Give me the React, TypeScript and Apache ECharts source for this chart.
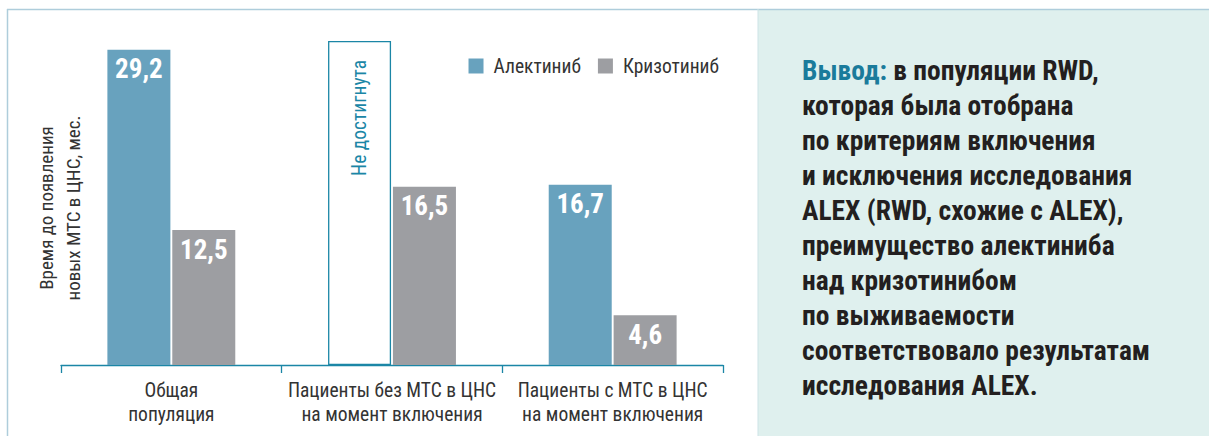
import React, { useEffect, useRef } from 'react';
import * as echarts from 'echarts';

const categories = [
  'Общая\nпопуляция',
  'Пациенты без МТС в ЦНС\nна момент включения',
  'Пациенты с МТС в ЦНС\nна момент включения',
];
const seriesNames = ['Алектиниб', 'Кризотиниб'];
// null = медиана не достигнута
const alectinib: (number | null)[] = [29.2, null, 16.7];
const crizotinib: number[] = [12.5, 16.5, 4.6];
const notReachedLabel = 'Не достигнута';
const notReachedBarHeight = 30;
const yMin = 0;
const yMax = 30;
const yAxisTitleLines = ['Время до появления', 'новых МТС в ЦНС, мес.'];
const conclusionLead = 'Вывод:';
const conclusionLines = [
  'в популяции RWD,',
  'которая была отобрана',
  'по критериям включения',
  'и исключения исследования',
  'ALEX (RWD, схожие с ALEX),',
  'преимущество алектиниба',
  'над кризотинибом',
  'по выживаемости',
  'соответствовало результатам',
  'исследования ALEX.',
];

const FONT = "'Liberation Sans Narrow', 'Roboto Condensed', 'DejaVu Sans Condensed', Roboto, sans-serif";
const BLUE = '#68a2be';
const GRAY = '#9d9ea2';
const TEAL = '#1b86a6';
const FRAME = '#aecddb';
const PANEL = '#dff0ee';
const TEXT = '#333333';
const DARK = '#231f20';

const fmt = (v: number) => String(v).replace('.', ',');

export default function App() {
  const ref = useRef<HTMLDivElement>(null);
  useEffect(() => {
    if (!ref.current) return;
    const chart = echarts.init(ref.current, undefined, { renderer: 'svg' });

    const alectData = alectinib.map((v) =>
      v === null
        ? {
            value: notReachedBarHeight,
            itemStyle: { color: '#ffffff', borderColor: TEAL, borderWidth: 1.3 },
            label: {
              show: true,
              formatter: notReachedLabel,
              rotate: 90,
              position: 'insideTop',
              distance: 19,
              align: 'right',
              verticalAlign: 'middle',
              color: TEAL,
              fontSize: 19.5,
              fontWeight: 'normal',
            },
          }
        : { value: v }
    );

    const graphic: any[] = [
      { type: 'rect', z: -10, shape: { x: 758, y: 9, width: 460, height: 440 }, style: { fill: PANEL } },
      { type: 'line', z: -5, shape: { x1: 7, y1: 9.5, x2: 1209, y2: 9.5 }, style: { stroke: FRAME, lineWidth: 1.5 } },
      { type: 'line', z: -5, shape: { x1: 7.5, y1: 9, x2: 7.5, y2: 436 }, style: { stroke: FRAME, lineWidth: 1.5 } },
      { type: 'line', z: -5, shape: { x1: 758, y1: 9, x2: 758, y2: 436 }, style: { stroke: '#cde3e6', lineWidth: 1 } },
      {
        type: 'text',
        x: 46,
        y: 208,
        rotation: Math.PI / 2,
        style: { text: yAxisTitleLines[0], fontFamily: FONT, fontSize: 19, fill: TEXT, align: 'center', verticalAlign: 'middle' },
      },
      {
        type: 'text',
        x: 73,
        y: 208,
        rotation: Math.PI / 2,
        style: { text: yAxisTitleLines[1], fontFamily: FONT, fontSize: 19, fill: TEXT, align: 'center', verticalAlign: 'middle' },
      },
    ];
    conclusionLines.forEach((line, i) => {
      graphic.push({
        type: 'text',
        x: 802,
        y: 70 + i * 35,
        style: {
          text: i === 0 ? `{h|${conclusionLead}} {b|${line}}` : `{b|${line}}`,
          fontFamily: FONT,
          fontSize: 27.5,
          fontWeight: 'bold',
          fill: DARK,
          align: 'left',
          verticalAlign: 'middle',
          rich: {
            h: { fontFamily: FONT, fontSize: 27.5, fontWeight: 'bold', fill: '#1a7b9b' },
            b: { fontFamily: FONT, fontSize: 27.5, fontWeight: 'bold', fill: DARK },
          },
        },
      });
    });

    chart.setOption({
      animation: false,
      textStyle: { fontFamily: FONT },
      grid: { left: 61, right: 486, top: 41, bottom: 71, containLabel: false },
      legend: {
        data: seriesNames,
        right: 485,
        top: 51,
        itemWidth: 15,
        itemHeight: 15,
        itemGap: 17,
        icon: 'rect',
        textStyle: { fontFamily: FONT, fontSize: 19.5, color: TEXT, padding: [0, 0, 0, 5] },
      },
      xAxis: {
        type: 'category',
        data: categories,
        axisLine: { lineStyle: { color: TEAL, width: 1.3 } },
        axisTick: { show: true, length: 8, lineStyle: { color: TEAL, width: 1.3 } },
        axisLabel: { color: TEXT, fontFamily: FONT, fontSize: 19.5, lineHeight: 24.5, margin: 13, interval: 0 },
      },
      yAxis: { type: 'value', min: yMin, max: yMax, show: false },
      series: [
        {
          name: seriesNames[0],
          type: 'bar',
          data: alectData,
          barWidth: 63,
          barGap: '3%',
          itemStyle: { color: BLUE },
          label: {
            show: true,
            position: 'insideTop',
            distance: 6,
            color: '#ffffff',
            fontFamily: FONT,
            fontSize: 27,
            fontWeight: 'bold',
            formatter: (p: any) => fmt(p.value),
          },
        },
        {
          name: seriesNames[1],
          type: 'bar',
          data: crizotinib,
          barWidth: 63,
          barGap: '3%',
          itemStyle: { color: GRAY },
          label: {
            show: true,
            position: 'insideTop',
            distance: 6,
            color: '#ffffff',
            fontFamily: FONT,
            fontSize: 27,
            fontWeight: 'bold',
            formatter: (p: any) => fmt(p.value),
          },
        },
      ],
      graphic,
    });
    return () => chart.dispose();
  }, []);
  return <div ref={ref} style={{ position: 'fixed', left: 0, top: 0, width: 1209, height: 436, background: '#ffffff' }} />;
}
